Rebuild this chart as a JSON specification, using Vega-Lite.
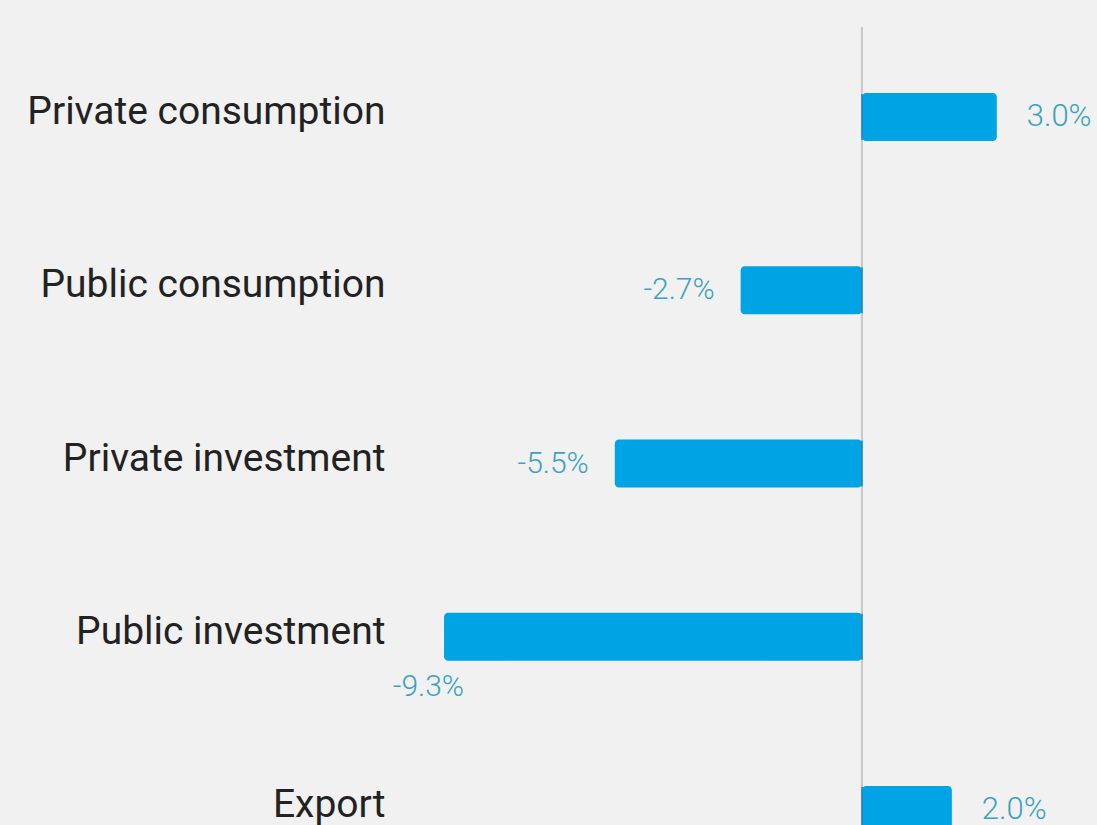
{
  "$schema": "https://vega.github.io/schema/vega-lite/v6.json",
  "autosize": {"type": "none"},
  "padding": {"left": 400, "top": 27, "right": 0, "bottom": 0},
  "width": 697,
  "height": 798,
  "background": "#f1f1f1",
  "config": {"view": {"stroke": null}},
  "data": {"values": [
    {"category": "Private consumption", "value": 3.0},
    {"category": "Public consumption", "value": -2.7},
    {"category": "Private investment", "value": -5.5},
    {"category": "Public investment", "value": -9.3},
    {"category": "Export", "value": 2.0}
  ]},
  "transform": [{"calculate": "replace(format(datum.value, '.1f'), '\u2212', '-') + '%'", "as": "label"}],
  "encoding": {
    "y": {
      "field": "category", "type": "nominal", "sort": null,
      "scale": {"range": [3.4, 869.6], "paddingInner": 0.723, "paddingOuter": 0.3615},
      "axis": {"title": null, "ticks": false, "domain": false, "labelPadding": 15, "labelOffset": -5, "labelFontSize": 39, "labelFont": "Roboto", "labelColor": "#222222", "labelLimit": 0}
    }
  },
  "layer": [
    {
      "mark": {"type": "rule", "color": "#c9c9c9", "strokeWidth": 2},
      "encoding": {"x": {"datum": 0, "type": "quantitative", "scale": {"domain": [-10.28, 5.23], "nice": false, "zero": false}, "axis": null}, "y": null}
    },
    {
      "mark": {"type": "bar", "color": "#00a3e3", "cornerRadius": 4},
      "encoding": {"x": {"field": "value", "type": "quantitative", "scale": {"domain": [-10.28, 5.23], "nice": false, "zero": false}, "axis": null}, "x2": {"datum": 0}}
    },
    {
      "mark": {"type": "tick", "orient": "vertical", "color": "#1d7fb3", "thickness": 2, "size": 46},
      "encoding": {"x": {"datum": 0, "type": "quantitative"}}
    },
    {
      "transform": [{"filter": "datum.value > 0"}],
      "mark": {"type": "text", "align": "left", "baseline": "middle", "dx": 30, "fontSize": 31, "font": "Roboto", "fontWeight": 300, "color": "#3aa2bf"},
      "encoding": {"x": {"field": "value", "type": "quantitative"}, "text": {"field": "label"}}
    },
    {
      "transform": [{"filter": "datum.value < 0 && datum.category != 'Public investment'"}],
      "mark": {"type": "text", "align": "right", "baseline": "middle", "dx": -26, "fontSize": 30, "font": "Roboto", "fontWeight": 300, "color": "#3aa2bf"},
      "encoding": {"x": {"field": "value", "type": "quantitative"}, "text": {"field": "label"}}
    },
    {
      "transform": [{"filter": "datum.category == 'Public investment'"}],
      "mark": {"type": "text", "align": "right", "baseline": "middle", "dx": 20, "dy": 50, "fontSize": 30, "font": "Roboto", "fontWeight": 300, "color": "#3aa2bf"},
      "encoding": {"x": {"field": "value", "type": "quantitative"}, "text": {"field": "label"}}
    }
  ]
}
